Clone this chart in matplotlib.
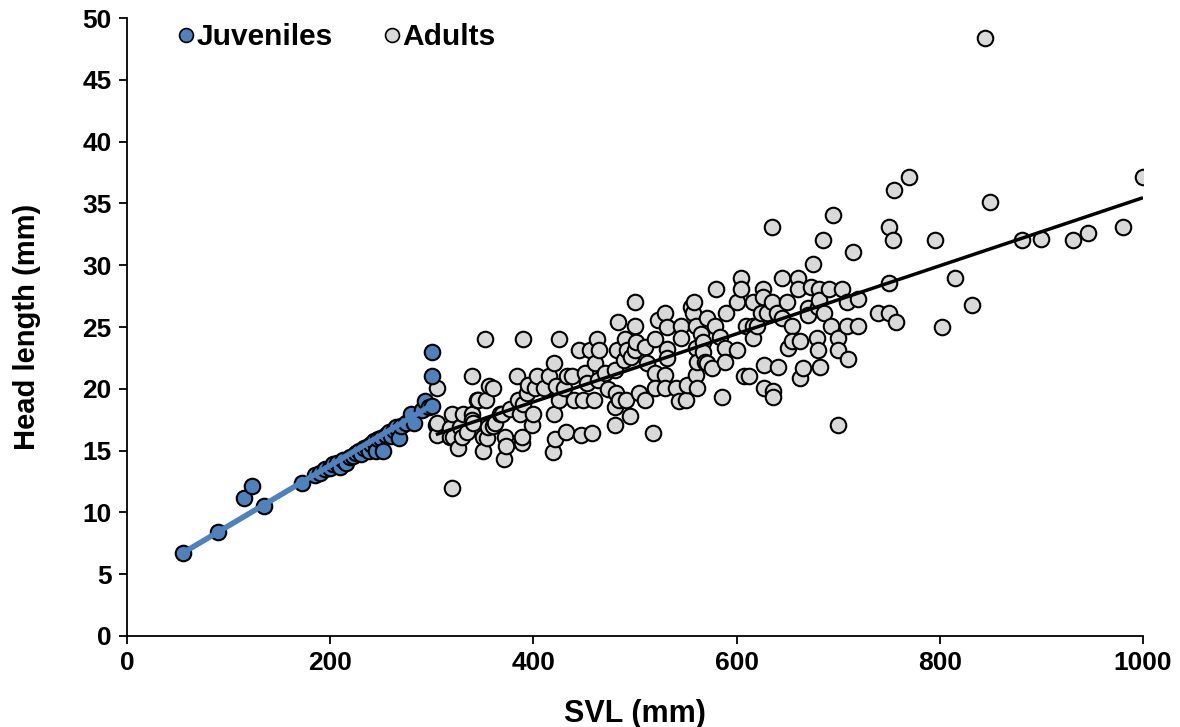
import numpy as np
import matplotlib
matplotlib.use("Agg")
import matplotlib.pyplot as plt
from matplotlib.lines import Line2D

plt.rcParams['font.family'] = ['Liberation Sans', 'DejaVu Sans']
plt.rcParams['font.weight'] = 'bold'

# Juveniles: SVL (mm), head length (mm)
juv_svl = [55, 90, 115, 123, 135, 172, 185, 190, 195, 200, 203, 207, 210, 213, 216,
           220, 222, 225, 228, 230, 233, 236, 238, 240, 243, 245, 247, 250, 252, 255,
           258, 260, 263, 265, 268, 270, 275, 280, 283, 290, 293, 297, 300, 300, 300]
juv_head = [6.7, 8.4, 11.2, 12.1, 10.5, 12.4, 13.0, 13.2, 13.5, 13.6, 13.9, 14.0, 13.7, 14.2, 14.0,
            14.5, 14.6, 14.8, 15.0, 14.7, 15.2, 15.3, 15.0, 15.5, 15.8, 15.0, 15.9, 16.0, 15.0, 16.3,
            16.5, 16.2, 16.7, 16.9, 16.0, 17.0, 17.2, 18.0, 17.2, 18.3, 19.0, 18.5, 23.0, 21.0, 18.6]

# Adults
adult_svl = [304, 305, 305, 305, 318, 318, 320, 320, 321, 326, 328, 330, 331, 335, 340, 340, 340, 341,
             345, 346, 350, 350, 352, 353, 354, 355, 356, 360, 360, 362,
             367, 369, 371, 372, 373, 377, 384, 385, 387, 389, 389, 390, 390, 394, 395, 399, 400, 402,
             404, 410, 415, 419, 420, 420, 421,
             422, 425, 425, 430, 432, 433, 438, 440, 445, 447, 449, 451, 453, 456, 458, 460, 461, 463,
             464, 465, 471, 473, 480, 480, 480, 481, 482, 483, 484,
             489, 490, 491, 492, 495, 496, 500, 500, 500, 501, 504, 510, 510, 512, 518, 520, 520, 520,
             523, 530, 530, 530, 532, 532, 532, 540,
             543, 545, 545, 550, 551, 555, 557, 558, 560, 560, 560, 561, 561, 565, 567, 567, 569, 571,
             571, 576, 579, 580, 584, 586, 589, 589, 590,
             600, 600, 604, 604, 607, 609, 612, 616, 616, 616, 620, 624, 626, 626, 627, 627, 630, 635,
             635, 636, 636, 640, 641, 645, 645, 650, 651, 655, 655, 660, 660,
             662, 662, 665, 670, 670, 673, 675, 679, 680, 680, 681, 681, 682, 685, 686, 691, 693, 695,
             700, 700, 700, 704, 709, 709, 710, 715, 720, 720,
             739, 750, 750, 750, 754, 755, 757, 770, 795, 802, 815, 832, 845, 849, 881, 900, 931, 946,
             980, 1000]
adult_head = [17.1, 20.1, 16.3, 17.2, 16.8, 16.1, 18.0, 12.0, 16.1, 15.2, 16.9, 16.1, 18.0, 16.5, 21.0, 18.0, 17.5, 17.2,
              19.1, 19.1, 16.1, 15.0, 24.0, 19.1, 16.0, 16.9, 20.2, 20.1, 17.0, 17.2,
              18.0, 18.0, 14.3, 16.1, 15.4, 18.4, 21.0, 19.1, 18.0, 15.6, 16.1, 24.0, 18.8, 19.7, 20.3, 17.1, 18.0, 20.1,
              21.0, 20.1, 21.0, 14.9, 22.1, 18.0, 15.9,
              20.2, 24.0, 19.1, 20.1, 16.5, 21.0, 21.0, 19.1, 23.1, 16.3, 19.1, 21.3, 20.5, 23.1, 16.4, 19.1, 22.1, 24.0,
              20.7, 23.1, 21.3, 20.0, 21.5, 18.5, 17.1, 19.7, 23.1, 25.4, 19.1,
              22.3, 24.0, 19.1, 23.1, 17.8, 22.6, 27.0, 25.1, 23.1, 23.8, 19.7, 23.4, 19.1, 22.1, 16.4, 24.0, 21.3, 20.1,
              25.6, 26.1, 21.1, 20.1, 25.0, 23.2, 22.5, 20.1,
              19.0, 25.1, 24.1, 19.1, 20.3, 26.6, 26.1, 27.0, 25.1, 23.3, 21.1, 22.2, 20.1, 24.4, 23.8, 23.0, 22.2, 25.7,
              22.1, 21.7, 25.1, 28.1, 24.2, 19.3, 23.3, 22.2, 26.1,
              27.0, 23.1, 29.0, 28.1, 21.0, 25.1, 21.0, 27.0, 25.1, 24.1, 25.1, 26.1, 28.1, 27.4, 21.9, 20.1, 26.1, 33.1,
              27.0, 19.8, 19.3, 26.1, 21.8, 29.0, 25.7, 27.0, 23.3, 25.1, 23.9, 29.0, 28.1,
              23.9, 20.9, 21.7, 26.5, 26.0, 28.2, 30.1, 24.1, 26.6, 23.1, 28.1, 27.2, 21.8, 32.0, 26.1, 28.1, 25.1, 34.1,
              24.1, 23.1, 17.1, 28.1, 27.0, 25.1, 22.4, 31.1, 27.3, 25.1,
              26.1, 33.1, 28.6, 26.1, 32.0, 36.1, 25.4, 37.1, 32.0, 25.0, 29.0, 26.8, 48.4, 35.1, 32.0, 32.1, 32.0, 32.6,
              33.1, 37.1]

juv_color = '#4F81BD'
adult_color = '#D9D9D9'

fig = plt.figure(figsize=(11.8, 7.27), dpi=100)
ax = fig.add_axes([0.1076, 0.1252, 0.861, 0.850])

ax.scatter(adult_svl, adult_head, s=125, c=adult_color, edgecolors='black', linewidths=1.5, zorder=2)
ax.scatter(juv_svl, juv_head, s=125, c=juv_color, edgecolors='black', linewidths=1.5, zorder=3)

# линии регрессии
jx = np.array(juv_svl, dtype=float)
jy = np.array(juv_head, dtype=float)
kj = np.polyfit(jx, jy, 1)
xs = np.array([jx.min(), jx.max()])
ax.plot(xs, np.polyval(kj, xs), color=juv_color, lw=4, zorder=4, solid_capstyle='butt')

axx = np.array(adult_svl, dtype=float)
ay = np.array(adult_head, dtype=float)
ka = np.polyfit(axx, ay, 1)
xs = np.array([axx.min(), axx.max()])
ax.plot(xs, np.polyval(ka, xs), color='black', lw=2.5, zorder=4, solid_capstyle='butt')

ax.set_xlim(0, 1000)
ax.set_ylim(0, 50)
ax.set_xticks(range(0, 1001, 200))
ax.set_yticks(range(0, 51, 5))
ax.tick_params(direction='out', length=6, width=1.3, labelsize=19, pad=5)
for lab in ax.get_xticklabels() + ax.get_yticklabels():
    lab.set_fontweight('bold')
for s in ['top', 'right']:
    ax.spines[s].set_visible(False)
for s in ['left', 'bottom']:
    ax.spines[s].set_linewidth(1.3)

ax.set_xlabel('SVL (mm)', fontsize=22, fontweight='bold', labelpad=17)
ax.set_ylabel('Head length (mm)', fontsize=21, fontweight='bold', labelpad=30)

handles = [Line2D([], [], ls='none', marker='o', markersize=10, markerfacecolor=juv_color,
                  markeredgecolor='black', markeredgewidth=1.2),
           Line2D([], [], ls='none', marker='o', markersize=10, markerfacecolor=adult_color,
                  markeredgecolor='black', markeredgewidth=1.2)]
ax.legend(handles, ['Juveniles', 'Adults'], ncol=2, frameon=False, loc='upper left',
          bbox_to_anchor=(0.024, 1.035), prop={'size': 21.5, 'weight': 'bold'},
          handletextpad=0.1, columnspacing=1.75, handlelength=0.5)

fig.savefig('out.png', dpi=100)
